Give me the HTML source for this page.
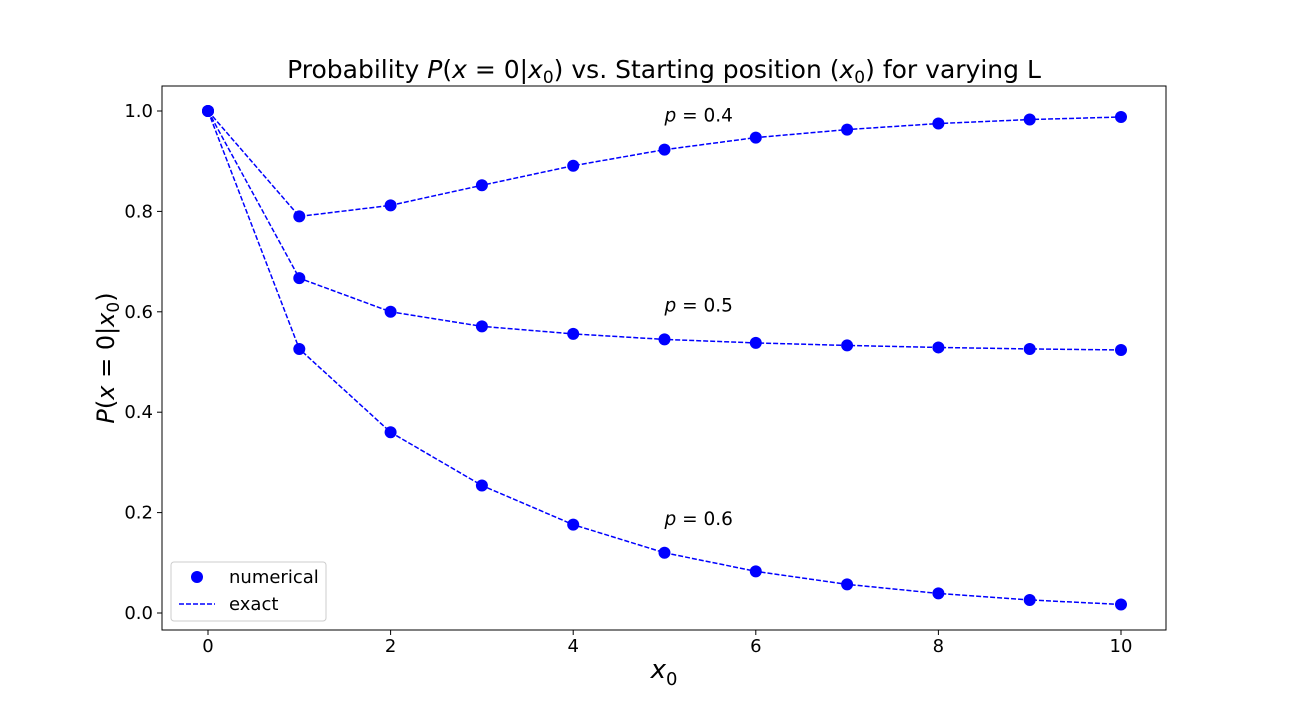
<!DOCTYPE html>
<html><head><meta charset="utf-8"><style>
body{margin:0;background:#fff;}
svg text{font-family:"DejaVu Sans","Liberation Sans",sans-serif;fill:#000;}
</style></head><body>
<svg id="chart" width="1296" height="720" xmlns="http://www.w3.org/2000/svg">
<rect width="1296" height="720" fill="#fff"/>
<text x="664" y="78" font-size="25" text-anchor="middle">Probability <tspan font-style="italic">P</tspan>(<tspan font-style="italic">x</tspan> = 0|<tspan font-style="italic">x</tspan><tspan font-size="17" dy="5">0</tspan><tspan dy="-5">) vs. Starting position (</tspan><tspan font-style="italic">x</tspan><tspan font-size="17" dy="5">0</tspan><tspan dy="-5">) for varying L</tspan></text>
<g id="axes"></g>
<g id="series"></g>
<rect x="162" y="86" width="1004" height="544" fill="none" stroke="#000" stroke-width="1"/>
<text x="664" y="678" font-size="26" text-anchor="middle" font-style="italic">x<tspan font-size="18" dy="7" font-style="normal">0</tspan></text>
<text transform="translate(114,358) rotate(-90)" font-size="24" text-anchor="middle"><tspan font-style="italic">P</tspan>(<tspan font-style="italic">x</tspan> = 0|<tspan font-style="italic">x</tspan><tspan font-size="17" dy="5">0</tspan><tspan dy="-5">)</tspan></text>
<g>
<rect x="171" y="562" width="155" height="59" fill="#fff" stroke="#ccc" rx="3"/>
<circle cx="197" cy="577" r="6" fill="#0000ff"/>
<text x="229" y="583" font-size="18">numerical</text>
<line x1="179" y1="604" x2="215" y2="604" stroke="#0000ff" stroke-width="1.5" stroke-dasharray="5,2"/>
<text x="229" y="610" font-size="18">exact</text>
</g>
</svg>
<script>
const xs=[0,1,2,3,4,5,6,7,8,9,10];
const p04=[1,0.79,0.812,0.852,0.891,0.923,0.947,0.963,0.975,0.983,0.988];
const p05=[1,0.667,0.6,0.571,0.556,0.545,0.538,0.533,0.529,0.526,0.524];
const p06=[1,0.526,0.36,0.254,0.176,0.12,0.083,0.057,0.039,0.026,0.017];
const seriesNames=["p-0.4","p-0.5","p-0.6"];
const seriesLabels=["0.4","0.5","0.6"];
const xTicks=[0,2,4,6,8,10];
const yTicks=[0,0.2,0.4,0.6,0.8,1.0];
const NS="http://www.w3.org/2000/svg";
const X=v=>208+v*91.3;
const Y=v=>613-v*502;
function mk(t,a,p){const e=document.createElementNS(NS,t);for(const k in a)e.setAttribute(k,a[k]);p.appendChild(e);return e;}
const ax=document.getElementById('axes');
xTicks.forEach(t=>{
 const l=mk('line',{x1:X(t),x2:X(t),y1:630,y2:635,stroke:'#000'},ax);
 
 
 const tx=mk('text',{x:X(t),y:652,'font-size':18,'text-anchor':'middle'},ax);tx.textContent=t;
 
 
});
yTicks.forEach(t=>{
 const l=mk('line',{x1:157,x2:162,y1:Y(t),y2:Y(t),stroke:'#000'},ax);
 
 
 const tx=mk('text',{x:153,y:Y(t)+6,'font-size':18,'text-anchor':'end'},ax);tx.textContent=t.toFixed(1);
 
 
});
const sg=document.getElementById('series');
[p04,p05,p06].forEach((s,i)=>{
 const g=mk('g',{},sg);
 
 
 const pl=mk('polyline',{points:xs.map((x,j)=>X(x)+','+Y(s[j])).join(' '),fill:'none',stroke:'#0000ff','stroke-width':1.5,'stroke-dasharray':'5,2'},g);
 
 
 xs.forEach((x,j)=>{
  const c=mk('circle',{cx:X(x),cy:Y(s[j]),r:6,fill:'#0000ff'},g);
  
  
 });
 const lab=mk('text',{x:X(5),y:Y(s[5])-28,'font-size':18.5},g);
 lab.innerHTML='<tspan font-style="italic">p</tspan> = '+seriesLabels[i];
 
 
});
</script>
</body></html>
